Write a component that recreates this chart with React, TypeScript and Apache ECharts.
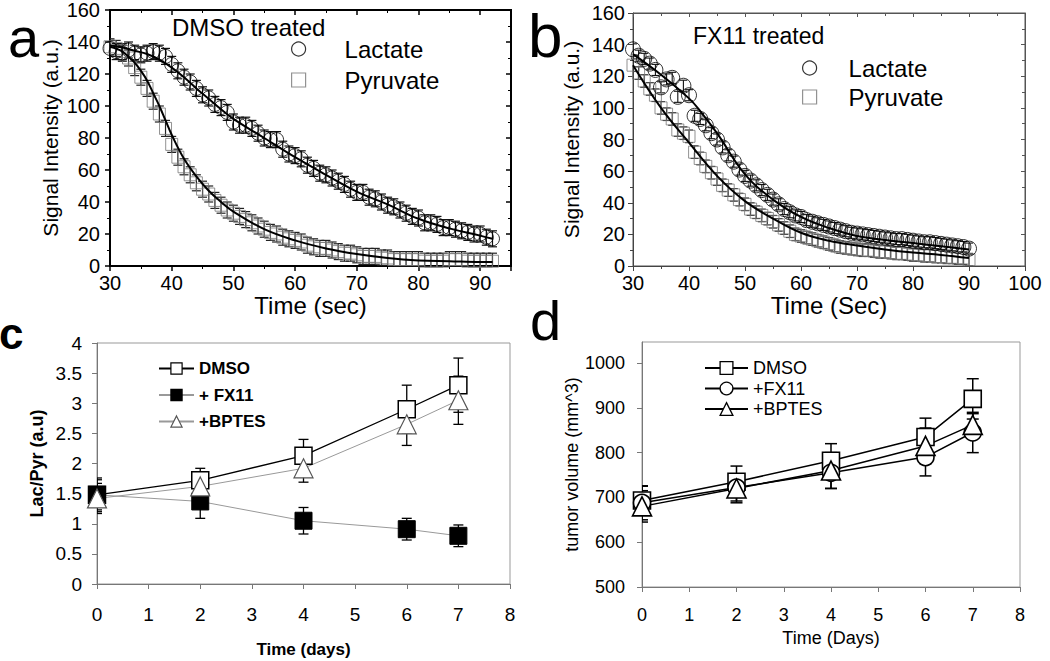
import React, { useEffect, useRef } from "react";
import * as echarts from "echarts";

// ---------- Panel a (DMSO treated) ----------
const TIME_A = [30, 31, 32, 33, 34, 35, 36, 37, 38, 39, 40, 41, 42, 43, 44, 45, 46, 47, 48, 49, 50, 51, 52, 53, 54, 55, 56, 57, 58, 59, 60, 61, 62, 63, 64, 65, 66, 67, 68, 69, 70, 71, 72, 73, 74, 75, 76, 77, 78, 79, 80, 81, 82, 83, 84, 85, 86, 87, 88, 89, 90, 91, 92];
const LAC_A = [136, 134, 133, 135, 133, 132, 133, 134, 133, 131, 126, 122, 118, 115, 111, 107, 105, 101, 99, 96, 90, 88, 88, 86, 83, 80, 79, 79, 73, 70, 69, 67, 63, 61, 58, 57, 55, 53, 51, 48, 46, 46, 43, 42, 40, 38, 37, 35, 33, 31, 30, 27, 27, 26, 24, 24, 23, 22, 21, 20, 20, 18, 17];
const PYR_A = [137, 136, 134, 130, 124, 118, 111, 103, 95, 86, 76, 68, 62, 57, 52, 48, 45, 41, 38, 35, 33, 31, 29, 27, 25, 23, 21, 20, 18, 17, 16, 15, 13, 12, 11, 11, 10, 9, 8, 8, 7, 6, 6, 6, 5, 5, 4, 4, 4, 4, 4, 3, 3, 3, 3, 4, 4, 4, 3, 3, 3, 3, 3];
const FIT_LAC_A_T = [30, 32, 34, 36, 38, 40, 42, 44, 46, 48, 50, 55, 60, 65, 70, 75, 80, 85, 90, 92];
const FIT_LAC_A = [138, 136.5, 134.5, 132.5, 129, 124, 118, 111, 104.5, 98, 92, 80, 68, 57, 46.5, 38.5, 29.5, 23.5, 19, 17];
const FIT_PYR_A_T = [30, 32, 34, 35, 36, 37, 38, 39, 40, 42, 44, 46, 48, 50, 55, 60, 65, 70, 75, 80, 85, 90, 92];
const FIT_PYR_A = [137, 134, 127, 122, 116, 108, 100, 91, 82, 67, 56, 47, 40, 34, 23, 16, 11, 7.5, 5, 3.5, 3, 2.5, 2.5];
const ERR_LAC_A = 5;
const ERR_PYR_A = 5;

// ---------- Panel b (FX11 treated) ----------
const TIME_B = [30, 31, 32, 33, 34, 35, 36, 37, 38, 39, 40, 41, 42, 43, 44, 45, 46, 47, 48, 49, 50, 51, 52, 53, 54, 55, 56, 57, 58, 59, 60, 61, 62, 63, 64, 65, 66, 67, 68, 69, 70, 71, 72, 73, 74, 75, 76, 77, 78, 79, 80, 81, 82, 83, 84, 85, 86, 87, 88, 89, 90];
const LAC_B = [137, 133, 131, 128, 124, 113, 118, 119, 107, 114, 108, 95, 93, 89, 84, 80, 75, 70, 66, 61, 57, 54, 51, 48, 45, 42, 39, 36, 34, 32, 31, 29, 28, 27, 26, 25, 24, 23, 22, 21, 20.5, 20, 19.5, 19, 18.5, 18, 17.5, 17, 17, 16.5, 16, 15.5, 15, 15, 14.5, 14, 13.5, 13, 12.5, 12, 11];
const PYR_B = [127, 122, 117, 112, 108, 100, 96, 93, 86, 84, 82, 72, 68, 63, 59, 55, 51, 48, 45, 42, 39, 36, 34, 32, 30, 28, 26, 24, 22, 20, 19, 18, 17, 16, 15, 14, 13, 12, 11.5, 11, 10.5, 10, 10, 9.5, 9, 9, 8.5, 8, 8, 7.5, 7, 7, 6.5, 6.5, 6, 6, 5.5, 5.5, 5, 5, 4];
const FIT_LAC_B_T = [30, 35, 40, 42, 45, 50, 55, 60, 65, 70, 75, 80, 85, 90];
const FIT_LAC_B = [134, 121, 106, 98, 84, 58, 42, 31, 24, 19, 16.5, 14.5, 12.5, 10.5];
const FIT_PYR_B_T = [30, 35, 40, 45, 50, 55, 60, 65, 70, 75, 80, 85, 90];
const FIT_PYR_B = [127, 100, 78, 57, 41, 30, 21, 16, 13, 10.5, 8.5, 7, 5];
const ERR_LAC_B = 3.5;
const ERR_PYR_B = 4;

// ---------- Panel c (Lac/Pyr) ----------
const DAYS = [0, 2, 4, 6, 7];
const C_DMSO = [1.48, 1.72, 2.13, 2.9, 3.3];
const C_DMSO_ERR = [0.28, 0.2, 0.27, 0.4, 0.45];
const C_FX11 = [1.48, 1.37, 1.05, 0.91, 0.8];
const C_FX11_ERR = [0.25, 0.28, 0.22, 0.18, 0.18];
const C_BPTES = [1.42, 1.62, 1.92, 2.65, 3.05];
const C_BPTES_ERR = [0.25, 0.2, 0.23, 0.35, 0.4];

// ---------- Panel d (tumor volume) ----------
const D_DMSO = [693, 735, 782, 835, 920];
const D_DMSO_ERR = [32, 35, 38, 42, 45];
const D_FX11 = [688, 722, 755, 790, 845];
const D_FX11_ERR = [38, 30, 35, 42, 45];
const D_BPTES = [680, 720, 760, 815, 862];
const D_BPTES_ERR = [35, 32, 40, 40, 25];

const LEGEND_NAMES: Record<string, string> = {
  LacA: "Lactate",
  PyrA: "Pyruvate",
  LacB: "Lactate",
  PyrB: "Pyruvate",
  cDMSO: "DMSO",
  cFX11: "+ FX11",
  cBPTES: "+BPTES",
  dDMSO: "DMSO",
  dFX11: "+FX11",
  dBPTES: "+BPTES",
};

const SANS = "'Liberation Sans', Arial, Helvetica, sans-serif";
const NARROW = "'Liberation Sans Narrow', 'Liberation Sans', Arial, sans-serif";

const zip = (xs: number[], ys: number[]) => xs.map((x, i) => [x, ys[i]]);
const zipErr = (xs: number[], ys: number[], es: number[] | number) =>
  xs.map((x, i) => [x, ys[i], Array.isArray(es) ? es[i] : es]);

function errRender(color: string, lw: number, cap: number) {
  return (params: any, api: any) => {
    const x = api.value(0);
    const y = api.value(1);
    const e = api.value(2);
    const p1 = api.coord([x, y + e]);
    const p2 = api.coord([x, y - e]);
    const style = { stroke: color, lineWidth: lw };
    return {
      type: "group",
      children: [
        { type: "line", shape: { x1: p1[0], y1: p1[1], x2: p2[0], y2: p2[1] }, style },
        { type: "line", shape: { x1: p1[0] - cap, y1: p1[1], x2: p1[0] + cap, y2: p1[1] }, style },
        { type: "line", shape: { x1: p2[0] - cap, y1: p2[1], x2: p2[0] + cap, y2: p2[1] }, style },
      ],
    };
  };
}

function errSeries(x: number, y: number, data: any[], color: string, lw: number, cap: number, z = 2) {
  return {
    type: "custom",
    xAxisIndex: x,
    yAxisIndex: y,
    data,
    renderItem: errRender(color, lw, cap),
    clip: true,
    silent: true,
    z,
  };
}

export default function App() {
  const ref = useRef<HTMLDivElement>(null);

  useEffect(() => {
    if (!ref.current) return;
    const chart = echarts.init(ref.current, undefined, { renderer: "svg" });

    const lblA = { color: "#000", fontFamily: SANS, fontSize: 20 };
    const hidden = { show: false };
    const plain = (v: number) => String(v);

    const option: any = {
      animation: false,
      backgroundColor: "#fff",
      grid: [
        { left: 110, top: 9, width: 401, height: 257, show: true, borderColor: "#000", borderWidth: 2 },
        { left: 633, top: 13, width: 392, height: 253, show: true, borderColor: "#555", borderWidth: 1 },
        { left: 97, top: 343, width: 413, height: 241, show: true, borderColor: "#999", borderWidth: 1 },
        { left: 642, top: 342, width: 378, height: 245, show: true, borderColor: "#999", borderWidth: 1 },
      ],
      xAxis: [
        {
          type: "value", gridIndex: 0, min: 30, max: 95, interval: 10, position: "bottom",
          axisLine: { onZero: false, lineStyle: { color: "#000", width: 2 } },
          axisTick: { length: 5, lineStyle: { color: "#000", width: 1.5 } },
          minorTick: { show: true, splitNumber: 2, length: 3, lineStyle: { color: "#000", width: 1 } },
          axisLabel: { ...lblA, margin: 7, showMaxLabel: false, formatter: plain },
          splitLine: hidden,
          name: "Time (sec)", nameLocation: "middle", nameGap: 22,
          nameTextStyle: { color: "#000", fontFamily: SANS, fontSize: 24 },
        },
        {
          type: "value", gridIndex: 0, min: 30, max: 95, interval: 10, position: "top",
          axisLine: { onZero: false, lineStyle: { color: "#000", width: 2 } },
          axisTick: { inside: true, length: 5, lineStyle: { color: "#000", width: 1.5 } },
          minorTick: { show: true, splitNumber: 2, length: 3, lineStyle: { color: "#000" } },
          axisLabel: hidden, splitLine: hidden,
        },
        {
          type: "value", gridIndex: 1, min: 30, max: 100, interval: 10, position: "bottom",
          axisLine: { onZero: false, lineStyle: { color: "#444", width: 1 } },
          axisTick: { length: 5, lineStyle: { color: "#444", width: 1 } },
          minorTick: { show: true, splitNumber: 2, length: 3, lineStyle: { color: "#444" } },
          axisLabel: { ...lblA, margin: 7, formatter: plain },
          splitLine: hidden,
          name: "Time (Sec)", nameLocation: "middle", nameGap: 22,
          nameTextStyle: { color: "#000", fontFamily: SANS, fontSize: 24 },
        },
        {
          type: "value", gridIndex: 1, min: 30, max: 100, interval: 10, position: "top",
          axisLine: { onZero: false, lineStyle: { color: "#555", width: 1 } },
          axisTick: { inside: true, length: 4, lineStyle: { color: "#555" } },
          minorTick: { show: true, splitNumber: 2, length: 3, lineStyle: { color: "#555" } },
          axisLabel: hidden, splitLine: hidden,
        },
        {
          type: "value", gridIndex: 2, min: 0, max: 8, interval: 1, position: "bottom",
          axisLine: { onZero: false, lineStyle: { color: "#777", width: 1 } },
          axisTick: { length: 5, lineStyle: { color: "#777" } },
          axisLabel: { color: "#000", fontFamily: NARROW, fontSize: 19, margin: 21, formatter: plain },
          splitLine: hidden,
          name: "Time (days)", nameLocation: "middle", nameGap: 57,
          nameTextStyle: { color: "#000", fontFamily: SANS, fontSize: 17, fontWeight: "bold" },
        },
        {
          type: "value", gridIndex: 3, min: 0, max: 8, interval: 1, position: "bottom",
          axisLine: { onZero: false, lineStyle: { color: "#777", width: 1 } },
          axisTick: { length: 5, lineStyle: { color: "#777" } },
          axisLabel: { color: "#000", fontFamily: SANS, fontSize: 18, margin: 19, formatter: plain },
          splitLine: hidden,
          name: "Time (Days)", nameLocation: "middle", nameGap: 42,
          nameTextStyle: { color: "#000", fontFamily: SANS, fontSize: 18 },
        },
      ],
      yAxis: [
        {
          type: "value", gridIndex: 0, min: 0, max: 160, interval: 20, position: "left",
          axisLine: { onZero: false, lineStyle: { color: "#000", width: 2 } },
          axisTick: { length: 5, lineStyle: { color: "#000", width: 1.5 } },
          minorTick: { show: true, splitNumber: 2, length: 3, lineStyle: { color: "#000" } },
          axisLabel: { ...lblA, margin: 10, formatter: plain },
          splitLine: hidden,
          name: "Signal Intensity (a.u.)", nameLocation: "middle", nameGap: 49,
          nameTextStyle: { color: "#000", fontFamily: SANS, fontSize: 21 },
        },
        {
          type: "value", gridIndex: 0, min: 0, max: 160, interval: 20, position: "right",
          axisLine: { onZero: false, lineStyle: { color: "#000", width: 2 } },
          axisTick: { inside: true, length: 5, lineStyle: { color: "#000", width: 1.5 } },
          minorTick: { show: true, splitNumber: 2, length: 3, lineStyle: { color: "#000" } },
          axisLabel: hidden, splitLine: hidden,
        },
        {
          type: "value", gridIndex: 1, min: 0, max: 160, interval: 20, position: "left",
          axisLine: { onZero: false, lineStyle: { color: "#444", width: 1 } },
          axisTick: { length: 5, lineStyle: { color: "#444" } },
          minorTick: { show: true, splitNumber: 2, length: 3, lineStyle: { color: "#444" } },
          axisLabel: { ...lblA, margin: 8, formatter: plain },
          splitLine: hidden,
          name: "Signal Intensity (a.u.)", nameLocation: "middle", nameGap: 51,
          nameTextStyle: { color: "#000", fontFamily: SANS, fontSize: 21 },
        },
        {
          type: "value", gridIndex: 1, min: 0, max: 160, interval: 20, position: "right",
          axisLine: { onZero: false, lineStyle: { color: "#555", width: 1 } },
          axisTick: { inside: true, length: 4, lineStyle: { color: "#555" } },
          minorTick: { show: true, splitNumber: 2, length: 3, lineStyle: { color: "#555" } },
          axisLabel: hidden, splitLine: hidden,
        },
        {
          type: "value", gridIndex: 2, min: 0, max: 4, interval: 0.5, position: "left",
          axisLine: { onZero: false, lineStyle: { color: "#777", width: 1 } },
          axisTick: { length: 5, lineStyle: { color: "#777" } },
          axisLabel: { color: "#000", fontFamily: NARROW, fontSize: 19, margin: 15, formatter: plain },
          splitLine: hidden,
          name: "Lac/Pyr (a.u)", nameLocation: "middle", nameGap: 51,
          nameTextStyle: { color: "#000", fontFamily: SANS, fontSize: 18, fontWeight: "bold" },
        },
        {
          type: "value", gridIndex: 3, min: 500, max: 1047, interval: 100, position: "left",
          axisLine: { onZero: false, lineStyle: { color: "#777", width: 1 } },
          axisTick: { length: 5, lineStyle: { color: "#777" } },
          axisLabel: { color: "#000", fontFamily: SANS, fontSize: 18, margin: 17, showMaxLabel: false, formatter: plain },
          splitLine: hidden,
          name: "tumor volume (mm^3)", nameLocation: "middle", nameGap: 60,
          nameTextStyle: { color: "#000", fontFamily: SANS, fontSize: 18 },
        },
      ],
      legend: [
        {
          orient: "vertical", left: 291, top: 37, padding: 0, itemWidth: 14, itemHeight: 14, itemGap: 7,
          selectedMode: false,
          data: [{ name: "LacA", icon: "circle" }, { name: "PyrA", icon: "rect" }],
          formatter: (n: string) => LEGEND_NAMES[n],
          itemStyle: { borderWidth: 1.2 },
          textStyle: { color: "#000", fontFamily: SANS, fontSize: 24, lineHeight: 14, padding: [0, 0, 0, 34] },
        },
        {
          orient: "vertical", left: 802, top: 56, padding: 0, itemWidth: 14, itemHeight: 14, itemGap: 5,
          selectedMode: false,
          data: [{ name: "LacB", icon: "circle" }, { name: "PyrB", icon: "rect" }],
          formatter: (n: string) => LEGEND_NAMES[n],
          itemStyle: { borderWidth: 1.2 },
          textStyle: { color: "#000", fontFamily: SANS, fontSize: 24, lineHeight: 14, padding: [0, 0, 0, 27] },
        },
        {
          orient: "vertical", left: 158, top: 360, padding: 0, itemWidth: 35, itemHeight: 14, itemGap: 9.5,
          selectedMode: false,
          data: ["cDMSO", "cFX11", "cBPTES"],
          formatter: (n: string) => LEGEND_NAMES[n],
          itemStyle: { borderWidth: 1.2 },
          textStyle: { color: "#000", fontFamily: SANS, fontSize: 17, fontWeight: "bold", lineHeight: 14 },
        },
        {
          orient: "vertical", left: 704, top: 359, padding: 0, itemWidth: 43, itemHeight: 16, itemGap: 2.5,
          selectedMode: false,
          data: ["dDMSO", "dFX11", "dBPTES"],
          formatter: (n: string) => LEGEND_NAMES[n],
          itemStyle: { borderWidth: 1.3 },
          textStyle: { color: "#000", fontFamily: SANS, fontSize: 18, lineHeight: 16 },
        },
      ],
      series: [
        // ---- a ----
        errSeries(0, 0, zipErr(TIME_A, PYR_A, ERR_PYR_A), "#222", 1.2, 4.5),
        errSeries(0, 0, zipErr(TIME_A, LAC_A, ERR_LAC_A), "#111", 1.2, 4.5),
        {
          name: "PyrA", type: "scatter", xAxisIndex: 0, yAxisIndex: 0, data: zip(TIME_A, PYR_A),
          symbol: "rect", symbolSize: 12, z: 3,
          itemStyle: { color: "rgba(255,255,255,0)", borderColor: "#777", borderWidth: 1 },
        },
        {
          name: "LacA", type: "scatter", xAxisIndex: 0, yAxisIndex: 0, data: zip(TIME_A, LAC_A),
          symbol: "circle", symbolSize: 14, z: 3,
          itemStyle: { color: "rgba(255,255,255,0)", borderColor: "#000", borderWidth: 1 },
        },
        {
          type: "line", xAxisIndex: 0, yAxisIndex: 0, data: zip(FIT_LAC_A_T, FIT_LAC_A), smooth: 0.4,
          showSymbol: false, symbol: "none", lineStyle: { color: "#000", width: 2 }, z: 4, silent: true,
        },
        {
          type: "line", xAxisIndex: 0, yAxisIndex: 0, data: zip(FIT_PYR_A_T, FIT_PYR_A), smooth: 0.4,
          showSymbol: false, symbol: "none", lineStyle: { color: "#000", width: 2 }, z: 4, silent: true,
        },
        // ---- b ----
        errSeries(2, 2, zipErr(TIME_B, PYR_B, ERR_PYR_B), "#222", 1.1, 4),
        errSeries(2, 2, zipErr(TIME_B, LAC_B, ERR_LAC_B), "#111", 1.1, 4),
        {
          name: "PyrB", type: "scatter", xAxisIndex: 2, yAxisIndex: 2, data: zip(TIME_B, PYR_B),
          symbol: "rect", symbolSize: 12, z: 3,
          itemStyle: { color: "rgba(255,255,255,0)", borderColor: "#777", borderWidth: 1 },
        },
        {
          name: "LacB", type: "scatter", xAxisIndex: 2, yAxisIndex: 2, data: zip(TIME_B, LAC_B),
          symbol: "circle", symbolSize: 15, z: 3,
          itemStyle: { color: "rgba(255,255,255,0)", borderColor: "#000", borderWidth: 1 },
        },
        {
          type: "line", xAxisIndex: 2, yAxisIndex: 2, data: zip(FIT_LAC_B_T, FIT_LAC_B), smooth: 0.4,
          showSymbol: false, symbol: "none", lineStyle: { color: "#000", width: 2 }, z: 4, silent: true,
        },
        {
          type: "line", xAxisIndex: 2, yAxisIndex: 2, data: zip(FIT_PYR_B_T, FIT_PYR_B), smooth: 0.4,
          showSymbol: false, symbol: "none", lineStyle: { color: "#000", width: 2 }, z: 4, silent: true,
        },
        // ---- c ----
        errSeries(4, 4, zipErr(DAYS, C_DMSO, C_DMSO_ERR), "#000", 1.3, 5),
        errSeries(4, 4, zipErr(DAYS, C_FX11, C_FX11_ERR), "#000", 1.3, 5),
        errSeries(4, 4, zipErr(DAYS, C_BPTES, C_BPTES_ERR), "#000", 1.3, 5),
        {
          name: "cDMSO", type: "line", xAxisIndex: 4, yAxisIndex: 4, data: zip(DAYS, C_DMSO),
          symbol: "rect", symbolSize: 17, z: 3,
          itemStyle: { color: "#fff", borderColor: "#000", borderWidth: 1.5 },
          lineStyle: { color: "#000", width: 1.3 },
        },
        {
          name: "cFX11", type: "line", xAxisIndex: 4, yAxisIndex: 4, data: zip(DAYS, C_FX11),
          symbol: "rect", symbolSize: 17, z: 3,
          itemStyle: { color: "#000", borderColor: "#000", borderWidth: 1 },
          lineStyle: { color: "#999", width: 1 },
        },
        {
          name: "cBPTES", type: "line", xAxisIndex: 4, yAxisIndex: 4, data: zip(DAYS, C_BPTES),
          symbol: "triangle", symbolSize: 19, z: 3,
          itemStyle: { color: "#fff", borderColor: "#555", borderWidth: 1.2 },
          lineStyle: { color: "#999", width: 1 },
        },
        // ---- d ----
        errSeries(5, 5, zipErr(DAYS, D_DMSO, D_DMSO_ERR), "#000", 1.5, 6),
        errSeries(5, 5, zipErr(DAYS, D_FX11, D_FX11_ERR), "#000", 1.5, 6),
        errSeries(5, 5, zipErr(DAYS, D_BPTES, D_BPTES_ERR), "#000", 1.5, 6),
        {
          name: "dDMSO", type: "line", xAxisIndex: 5, yAxisIndex: 5, data: zip(DAYS, D_DMSO),
          symbol: "rect", symbolSize: 17, z: 3,
          itemStyle: { color: "#fff", borderColor: "#000", borderWidth: 1.6 },
          lineStyle: { color: "#000", width: 1.5 },
        },
        {
          name: "dFX11", type: "line", xAxisIndex: 5, yAxisIndex: 5, data: zip(DAYS, D_FX11),
          symbol: "circle", symbolSize: 17, z: 3,
          itemStyle: { color: "#fff", borderColor: "#000", borderWidth: 1.6 },
          lineStyle: { color: "#000", width: 1.5 },
        },
        {
          name: "dBPTES", type: "line", xAxisIndex: 5, yAxisIndex: 5, data: zip(DAYS, D_BPTES),
          symbol: "triangle", symbolSize: 19, z: 3,
          itemStyle: { color: "#fff", borderColor: "#000", borderWidth: 1.6 },
          lineStyle: { color: "#000", width: 1.5 },
        },
      ],
      graphic: [
        { type: "text", x: 8, y: 37.6, style: { text: "a", font: `56px ${SANS}`, fill: "#000", align: "left", verticalAlign: "middle", textAlign: "left", textVerticalAlign: "middle" } },
        { type: "text", x: 528, y: 35.5, style: { text: "b", font: `62px ${SANS}`, fill: "#000", align: "left", verticalAlign: "middle", textAlign: "left", textVerticalAlign: "middle" } },
        { type: "text", x: -1, y: 333, style: { text: "c", font: `bold 44px ${SANS}`, fill: "#000", align: "left", verticalAlign: "middle", textAlign: "left", textVerticalAlign: "middle" } },
        { type: "text", x: 530, y: 320.6, style: { text: "d", font: `56px ${SANS}`, fill: "#000", align: "left", verticalAlign: "middle", textAlign: "left", textVerticalAlign: "middle" } },
        { type: "text", x: 172, y: 27.7, style: { text: "DMSO treated", font: `24px ${SANS}`, fill: "#000", align: "left", verticalAlign: "middle", textAlign: "left", textVerticalAlign: "middle" } },
        { type: "text", x: 693, y: 36, style: { text: "FX11 treated", font: `23px ${SANS}`, fill: "#000", align: "left", verticalAlign: "middle", textAlign: "left", textVerticalAlign: "middle" } },
      ],
    };

    chart.setOption(option);
    return () => chart.dispose();
  }, []);

  return (
    <div
      ref={ref}
      style={{ position: "fixed", left: 0, top: 0, width: 1050, height: 661, background: "#fff" }}
    />
  );
}
